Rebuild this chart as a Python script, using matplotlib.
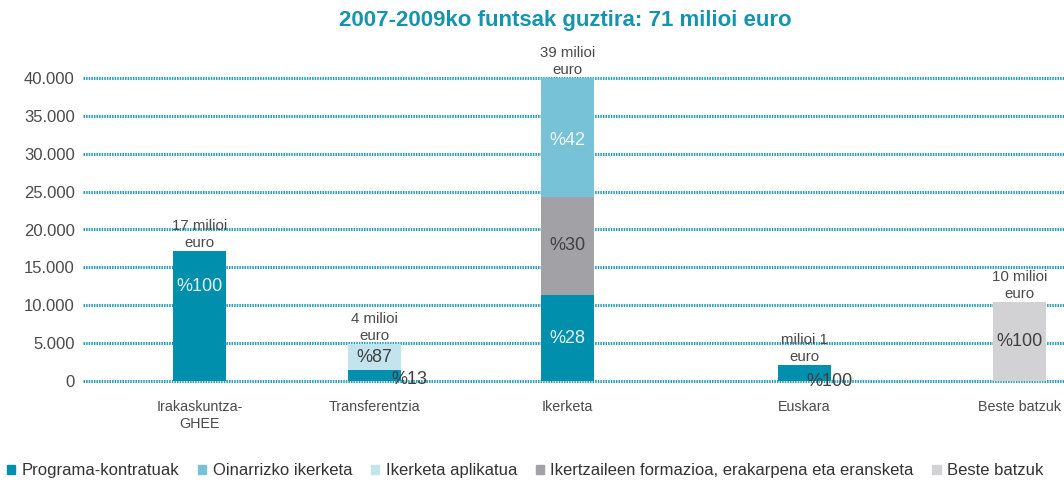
import matplotlib
matplotlib.use("Agg")
import matplotlib.pyplot as plt
from matplotlib.patches import Patch
from matplotlib.ticker import FuncFormatter

plt.rcParams['font.family'] = ['Liberation Sans', 'DejaVu Sans']

# ---- data ----
categories = ["Irakaskuntza-\nGHEE", "Transferentzia", "Ikerketa", "Euskara", "Beste batzuk"]
series_names = ["Programa-kontratuak", "Oinarrizko ikerketa", "Ikerketa aplikatua",
                "Ikertzaileen formazioa, erakarpena eta eransketa", "Beste batzuk"]
programa = [17160, 1400, 11350, 2100, 0]
ikertzaileen = [0, 0, 12950, 0, 0]
oinarrizko = [0, 0, 15700, 0, 0]
aplikatua = [0, 3480, 0, 0, 0]
beste = [0, 0, 0, 0, 10400]
total_labels = ["17 milioi\neuro", "4 milioi\neuro", "39 milioi\neuro", "milioi 1\neuro", "10 milioi\neuro"]
pct_programa = ["%100", "%13", "%28", "%100", None]
pct_ikertzaileen = [None, None, "%30", None, None]
pct_oinarrizko = [None, None, "%42", None, None]
pct_aplikatua = [None, "%87", None, None, None]
pct_beste = [None, None, None, None, "%100"]
yticks = [0, 5000, 10000, 15000, 20000, 25000, 30000, 35000, 40000]
title = "2007-2009ko funtsak guztira: 71 milioi euro"

# ---- layout / style ----
positions = [0, 1, 2.1017, 3.457, 4.684]
bar_w = 0.303
c_dark = "#0090ae"
c_oin = "#77c2d6"
c_apl = "#c3e3ed"
c_gray = "#a1a1a6"
c_lgray = "#d2d2d4"
c_grid = "#2b9fba"
c_text = "#4a4a4a"
c_dtext = "#404040"

fig = plt.figure(figsize=(10.64, 4.82), dpi=100)
ax = fig.add_axes([83/1064, 1-388.6/482, 1-83/1064, (388.6-70.4)/482])
ax.set_xlim(-0.666, 4.94)
ax.set_ylim(-1000, 41000)

for y in yticks:
    ax.axhline(y, color=c_grid, lw=2.2, ls=(0, (0.5, 0.35)), zorder=1)

stack_order = [
    (programa, c_dark, pct_programa, "#e6f3f7"),
    (ikertzaileen, c_gray, pct_ikertzaileen, c_dtext),
    (oinarrizko, c_oin, pct_oinarrizko, "#f2f9fb"),
    (aplikatua, c_apl, pct_aplikatua, c_dtext),
    (beste, c_lgray, pct_beste, c_dtext),
]
# per-label special placements: (dx, dy) in points and colour override
offsets = {
    (0, 0): (0, 21, None), (0, 1): (25, -3, c_dtext), (0, 3): (18, -6, c_dtext),
    (2, 2): (0, -2, None),
}
bottoms = [0]*len(categories)
for si, (vals, col, pcts, tcol) in enumerate(stack_order):
    ax.bar(positions, vals, width=bar_w, bottom=bottoms, color=col, zorder=2)
    for i, v in enumerate(vals):
        if pcts[i] is not None:
            dx, dy, oc = offsets.get((si, i), (0, 0, None))
            ax.annotate(pcts[i], (positions[i], bottoms[i] + v/2), xytext=(dx, dy),
                        textcoords="offset points", ha="center", va="center",
                        fontsize=13, color=oc or tcol, zorder=4)
    bottoms = [b + v for b, v in zip(bottoms, vals)]

for i, lab in enumerate(total_labels):
    ax.annotate(lab, (positions[i], bottoms[i]), xytext=(0, 1), textcoords="offset points",
                ha="center", va="bottom", fontsize=10.8, color=c_text, linespacing=1.25,
                zorder=4, annotation_clip=False)

ax.set_yticks(yticks)
ax.yaxis.set_major_formatter(FuncFormatter(lambda v, p: f"{int(v):,}".replace(",", ".")))
ax.set_xticks(positions)
ax.set_xticklabels(categories, linespacing=1.3)
ax.tick_params(axis='both', length=0)
ax.tick_params(axis='y', labelsize=12, colors=c_text, pad=6)
ax.tick_params(axis='x', labelsize=10.3, colors=c_text, pad=8)
for s in ax.spines.values():
    s.set_visible(False)

fig.text(0.531, 0.957, title, ha="center", va="center", fontsize=16, fontweight="bold", color="#1594b0")

handles = [Patch(color=c) for c in [c_dark, c_oin, c_apl, c_gray, c_lgray]]
fig.legend(handles, series_names, loc="center left", bbox_to_anchor=(7/1064, 0.023), ncol=5,
           frameon=False, fontsize=12, handlelength=0.5, handleheight=0.5,
           handletextpad=0.4, columnspacing=1.1, borderaxespad=0, borderpad=0,
           labelcolor="#333333")

fig.savefig("out.png", dpi=100)
